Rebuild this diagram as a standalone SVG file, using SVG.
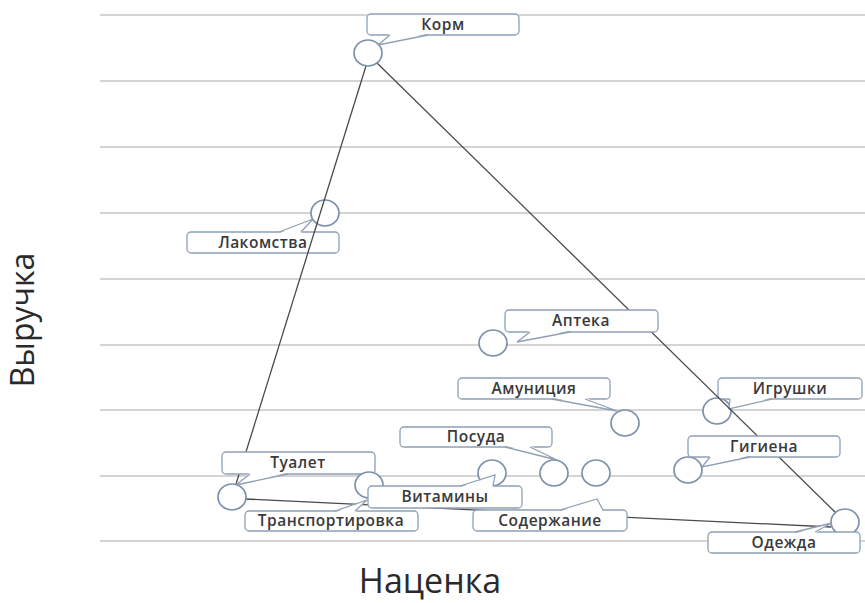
<svg xmlns="http://www.w3.org/2000/svg" width="865" height="603" viewBox="0 0 865 603">
<style>
.grid{stroke:#c6c6c6;stroke-width:1.5}
.edge{stroke:#4a4a4a;stroke-width:1.3;fill:none}
.dot{fill:#fff;stroke:#7d90ab;stroke-width:1.7}
.box{fill:#fff;stroke:#8fa0b4;stroke-width:1.3}
.tailf{fill:#fff;stroke:none}
.tails{fill:none;stroke:#8fa0b4;stroke-width:1.3}
.lbl{font-family:"Open Sans","Noto Sans",sans-serif;font-size:15.5px;font-weight:600;fill:#3a3a3a;text-anchor:middle;letter-spacing:0.5px}
.axis{font-family:"Open Sans","Noto Sans",sans-serif;fill:#2a2a2a;text-anchor:middle}
</style>
<rect x="0" y="0" width="865" height="603" fill="#fff"/>
<g id="grid">
<line class="grid" x1="100" y1="15" x2="865" y2="15"/>
<line class="grid" x1="100" y1="81" x2="865" y2="81"/>
<line class="grid" x1="100" y1="147" x2="865" y2="147"/>
<line class="grid" x1="100" y1="213" x2="865" y2="213"/>
<line class="grid" x1="100" y1="279" x2="865" y2="279"/>
<line class="grid" x1="100" y1="345" x2="865" y2="345"/>
<line class="grid" x1="100" y1="410" x2="865" y2="410"/>
<line class="grid" x1="100" y1="476" x2="865" y2="476"/>
<line class="grid" x1="100" y1="541" x2="865" y2="541"/>
</g>
<text class="axis" font-size="32" transform="translate(34,320) rotate(-90)">Выручка</text>
<text class="axis" font-size="34" x="430" y="593">Наценка</text>

<g id="node-lakomstva">
<ellipse class="dot" cx="325" cy="213" rx="14" ry="13"/>
<rect class="box" x="187" y="232" width="152" height="21" rx="4"/>
<polygon class="tailf" points="279,233.5 313,219 301,233.5"/>
<polyline class="tails" points="279,232 313,219 301,232"/>
<text class="lbl" x="263" y="248">Лакомства</text>
</g>
<g id="node-igrushki">
<ellipse class="dot" cx="717" cy="411" rx="14" ry="13"/>
<rect class="box" x="718" y="378" width="144" height="21" rx="4"/>
<polygon class="tailf" points="730,397.5 729,409 772,397.5"/>
<polyline class="tails" points="730,399 729,409 772,399"/>
<text class="lbl" x="790" y="394">Игрушки</text>
</g>

<g id="connectors">
<line class="edge" x1="366" y1="66" x2="236" y2="484"/>
<line class="edge" x1="377" y1="63" x2="836" y2="513"/>
<line class="edge" x1="246" y1="499" x2="831" y2="527"/>
</g>

<g id="node-korm">
<ellipse class="dot" cx="368" cy="53" rx="14" ry="13"/>
<rect class="box" x="367" y="14" width="152" height="21" rx="4"/>
<polygon class="tailf" points="390,33.5 378,45 428,33.5"/>
<polyline class="tails" points="390,35 378,45 428,35"/>
<text class="lbl" x="443" y="30">Корм</text>
</g>
<g id="node-apteka">
<ellipse class="dot" cx="493" cy="343" rx="14" ry="13"/>
<rect class="box" x="505" y="310" width="153" height="22" rx="4"/>
<polygon class="tailf" points="530,330.5 517,342 570,330.5"/>
<polyline class="tails" points="530,332 517,342 570,332"/>
<text class="lbl" x="581" y="326">Аптека</text>
</g>
<g id="node-amuniciya">
<ellipse class="dot" cx="625" cy="423" rx="14" ry="13"/>
<rect class="box" x="458" y="378" width="152" height="21" rx="4"/>
<polygon class="tailf" points="552,397.5 617,411 585,397.5"/>
<polyline class="tails" points="552,399 617,411 585,399"/>
<text class="lbl" x="534" y="394">Амуниция</text>
</g>
<g id="node-posuda">
<ellipse class="dot" cx="554" cy="473" rx="14" ry="13"/>
<rect class="box" x="400" y="427" width="152" height="20" rx="4"/>
<polygon class="tailf" points="505,445.5 557,460 530,445.5"/>
<polyline class="tails" points="505,447 557,460 530,447"/>
<text class="lbl" x="476" y="442">Посуда</text>
</g>
<g id="node-gigiena">
<ellipse class="dot" cx="688" cy="470" rx="14" ry="13"/>
<rect class="box" x="688" y="436" width="152" height="21" rx="4"/>
<polygon class="tailf" points="710,455.5 702,467 750,455.5"/>
<polyline class="tails" points="710,457 702,467 750,457"/>
<text class="lbl" x="764" y="452">Гигиена</text>
</g>
<g id="node-soderzhanie">
<ellipse class="dot" cx="596" cy="473" rx="14" ry="13"/>
<rect class="box" x="473" y="510" width="154" height="21" rx="4"/>
<polygon class="tailf" points="560,511.5 597,499 603,511.5"/>
<polyline class="tails" points="560,510 597,499 603,510"/>
<text class="lbl" x="550" y="526">Содержание</text>
</g>
<g id="node-tualet">
<ellipse class="dot" cx="232" cy="497" rx="14" ry="13"/>
<rect class="box" x="222" y="452" width="153" height="22" rx="4"/>
<polygon class="tailf" points="250,472.5 236,485 288,472.5"/>
<polyline class="tails" points="250,474 236,485 288,474"/>
<text class="lbl" x="298" y="468">Туалет</text>
</g>
<g id="node-transportirovka">
<ellipse class="dot" cx="369" cy="485" rx="14" ry="13"/>
<rect class="box" x="245" y="511" width="173" height="20" rx="4"/>
<polygon class="tailf" points="335,512.5 367,500 355,512.5"/>
<polyline class="tails" points="335,511 367,500 355,511"/>
<text class="lbl" x="331" y="526">Транспортировка</text>
</g>
<g id="node-vitaminy">
<ellipse class="dot" cx="492" cy="473" rx="14" ry="13"/>
<rect class="box" x="368" y="486" width="154" height="22" rx="4"/>
<polygon class="tailf" points="460,487.5 495,475 493,487.5"/>
<polyline class="tails" points="460,486 495,475 493,486"/>
<text class="lbl" x="445" y="502">Витамины</text>
</g>
<g id="node-odezhda">
<ellipse class="dot" cx="845" cy="522" rx="14" ry="13"/>
<rect class="box" x="708" y="532" width="152" height="21" rx="4"/>
<polygon class="tailf" points="795,533.5 832,523 815,533.5"/>
<polyline class="tails" points="795,532 832,523 815,532"/>
<text class="lbl" x="784" y="548">Одежда</text>
</g>
</svg>
